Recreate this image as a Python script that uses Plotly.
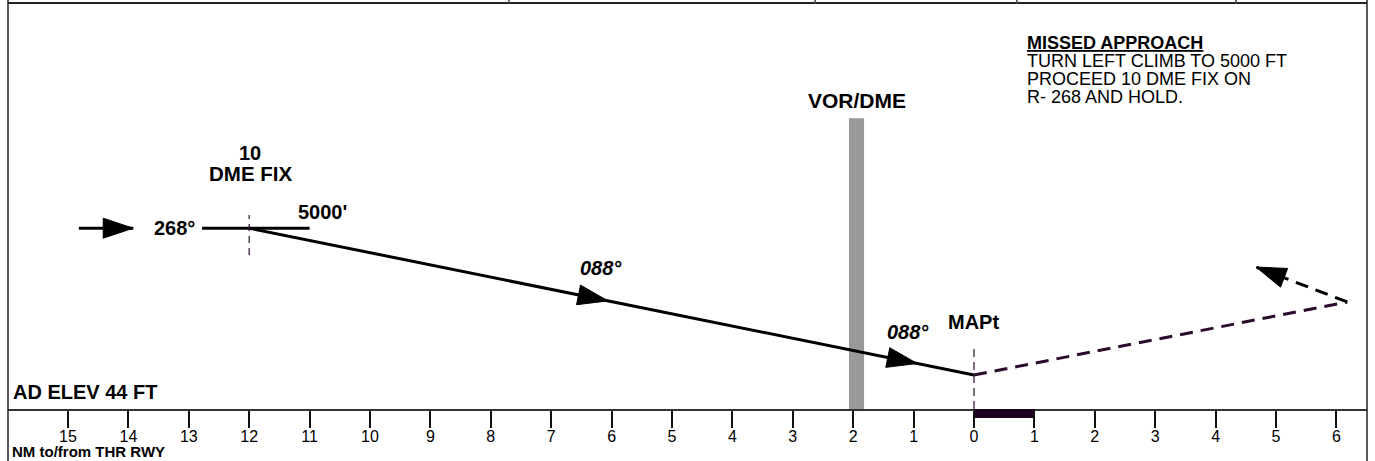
import math
import plotly.graph_objects as go

# ---------------- data (NM: negative = before threshold, positive = after) -------------
tick_nm = [-15, -14, -13, -12, -11, -10, -9, -8, -7, -6, -5, -4, -3, -2, -1, 0, 1, 2, 3, 4, 5, 6]
tick_labels = ["15", "14", "13", "12", "11", "10", "9", "8", "7", "6", "5", "4", "3", "2", "1",
               "0", "1", "2", "3", "4", "5", "6"]

inbound_nm = [-14.82, -13.92]
inbound_ft = [5000, 5000]
level_nm = [-12.78, -11.0]
level_ft = [5000, 5000]
profile_nm = [-12.0, 0.0]
profile_ft = [5000, 940]
missed_nm = [0.0, 6.18]
missed_ft = [940, 2960]
return_nm = [6.18, 4.67]
return_ft = [2960, 3925]

profile_arrow_nm = [-6.06, -0.94]
profile_arrow_ft = [2990, 1258]

dme_fix_nm = -12.0
dme_fix_span_ft = [4257, 5362]
mapt_nm = 0.0
mapt_span_ft = [0, 1714]
vor_nm = [-2.07, -1.82]
vor_top_ft = 8040
scale_bar_nm = [0, 1]
header_dividers_nm = [-7.70, -2.63, 0.71, 4.34]

missed_lines = ["TURN LEFT CLIMB TO 5000 FT", "PROCEED 10 DME FIX ON", "R- 268 AND HOLD."]
missed_line_ft = [9619, 9121, 8624]

# ---------------- layout constants ----------------
W, H = 1375, 461
ML, MR, MT, MB = 8, 8, 4, 52
X_RANGE = [-15.993, 6.507]
Y_RANGE = [0, 11200]
PLOT_W = W - ML - MR
PLOT_H = H - MT - MB
PX_PER_NM = PLOT_W / (X_RANGE[1] - X_RANGE[0])
PX_PER_FT = PLOT_H / (Y_RANGE[1] - Y_RANGE[0])

FONT = "Liberation Sans, Arial, Helvetica, sans-serif"
DARK = "#2a0b2c"

fig = go.Figure()


def line(xs, ys, color="black", width=3, dash=None):
    fig.add_trace(go.Scatter(x=xs, y=ys, mode="lines", hoverinfo="skip",
                             line=dict(color=color, width=width, dash=dash),
                             showlegend=False))


# VOR/DME bar
fig.add_shape(type="rect", xref="x", yref="y", x0=vor_nm[0], x1=vor_nm[1], y0=0, y1=vor_top_ft,
              fillcolor="#999999", line=dict(width=0), layer="below")

line(inbound_nm, inbound_ft)
line(level_nm, level_ft)
line(profile_nm, profile_ft)
line(missed_nm, missed_ft, color=DARK, width=3, dash="13px,8px")
line(return_nm, return_ft, color="black", width=3, dash="13px,8px")
line([dme_fix_nm, dme_fix_nm], dme_fix_span_ft, color=DARK, width=1.2, dash="7px,5px")
line([mapt_nm, mapt_nm], mapt_span_ft, color=DARK, width=1.2, dash="8px,5px")


def arrow(tip_x, tip_y, from_x, from_y, length=30, half=10, color="black"):
    dx = (tip_x - from_x) * PX_PER_NM
    dy = (tip_y - from_y) * PX_PER_FT
    n = math.hypot(dx, dy)
    ux, uy = dx / n, dy / n
    bx, by = -ux * length, -uy * length
    px, py = -uy * half, ux * half
    path = (f"M 0 0 L {bx + px:.2f} {by + py:.2f} L {bx - px:.2f} {by - py:.2f} Z")
    fig.add_shape(type="path", xref="x", yref="y", xsizemode="pixel", ysizemode="pixel",
                  xanchor=tip_x, yanchor=tip_y, path=path, fillcolor=color,
                  line=dict(color=color, width=1))


arrow(inbound_nm[1], inbound_ft[1], inbound_nm[0], inbound_ft[0])
for ax_, ay_ in zip(profile_arrow_nm, profile_arrow_ft):
    arrow(ax_, ay_, profile_nm[0], profile_ft[0])
arrow(return_nm[1], return_ft[1], return_nm[0], return_ft[0])

# scale bar under the axis (0-1 NM)
fig.add_shape(type="rect", xref="x", yref="paper", x0=scale_bar_nm[0], x1=scale_bar_nm[1],
              y0=-9 / PLOT_H, y1=0, fillcolor="#1e0020", line=dict(width=0))

# frame
fig.add_shape(type="line", xref="paper", yref="paper", x0=0, x1=1, y0=1 + 1 / PLOT_H,
              y1=1 + 1 / PLOT_H, line=dict(color="#222", width=2))
for xp in (0, 1):
    fig.add_shape(type="line", xref="paper", yref="paper", x0=xp, x1=xp,
                  y0=-MB / PLOT_H, y1=1 + MT / PLOT_H, line=dict(color="#222", width=1.5))
for hx in header_dividers_nm:
    fig.add_shape(type="line", xref="x", yref="paper", x0=hx, x1=hx,
                  y0=1, y1=1 + MT / PLOT_H, line=dict(color="#444", width=1.5))


def label(x, y, text, size=20, bold=True, italic=False, xanchor="center", xref="x", yref="y",
          color="black", under=False, xshift=0, yanchor="middle"):
    t = text
    if bold:
        t = f"<b>{t}</b>"
    if italic:
        t = f"<i>{t}</i>"
    font = dict(family=FONT, size=size, color=color)
    if under:
        font["lineposition"] = "under"
    fig.add_annotation(x=x, y=y, xref=xref, yref=yref, text=t, showarrow=False,
                       xanchor=xanchor, yanchor=yanchor, font=font, borderpad=0,
                       xshift=xshift)


label(-13.23, 5000, "268°", size=20)
label(-10.79, 5445, "5000'", size=20)
label(-11.98, 7076, "10", size=20)
label(-11.98, 6523, "DME FIX", size=20.5)
label(-6.18, 3897, "088°", size=20, italic=True)
label(-1.09, 2128, "088°", size=20, italic=True)
label(-1.94, 8540, "VOR/DME", size=21)
label(0.0, 2405, "MAPt", size=20)
label(-15.92, 470, "AD ELEV 44 FT", size=20, xanchor="left")
label(0.86, 10116, "MISSED APPROACH", size=18, xanchor="left", under=True)
for txt, yy in zip(missed_lines, missed_line_ft):
    label(0.86, yy, txt, size=18, bold=False, xanchor="left")
label(0.0, -MB / PLOT_H, "NM to/from THR RWY", size=15, xref="paper", yref="paper",
      xanchor="left", xshift=3, yanchor="bottom")

fig.update_layout(
    width=W, height=H,
    margin=dict(l=ML, r=MR, t=MT, b=MB, pad=0),
    paper_bgcolor="white", plot_bgcolor="white",
    showlegend=False,
    xaxis=dict(range=X_RANGE, showgrid=False, zeroline=False, showline=True,
               linecolor="#333", linewidth=1.5, ticks="outside", ticklen=17, tickwidth=1.5,
               tickcolor="#111", tickvals=tick_nm, ticktext=tick_labels, ticklabelstandoff=-5,
               tickfont=dict(family=FONT, size=16, color="black"), fixedrange=True),
    yaxis=dict(range=Y_RANGE, visible=False, fixedrange=True),
)

fig.write_html("out.html", config={"displayModeBar": False},
               post_script="document.body.style.margin='0';document.body.style.overflow='hidden';")
